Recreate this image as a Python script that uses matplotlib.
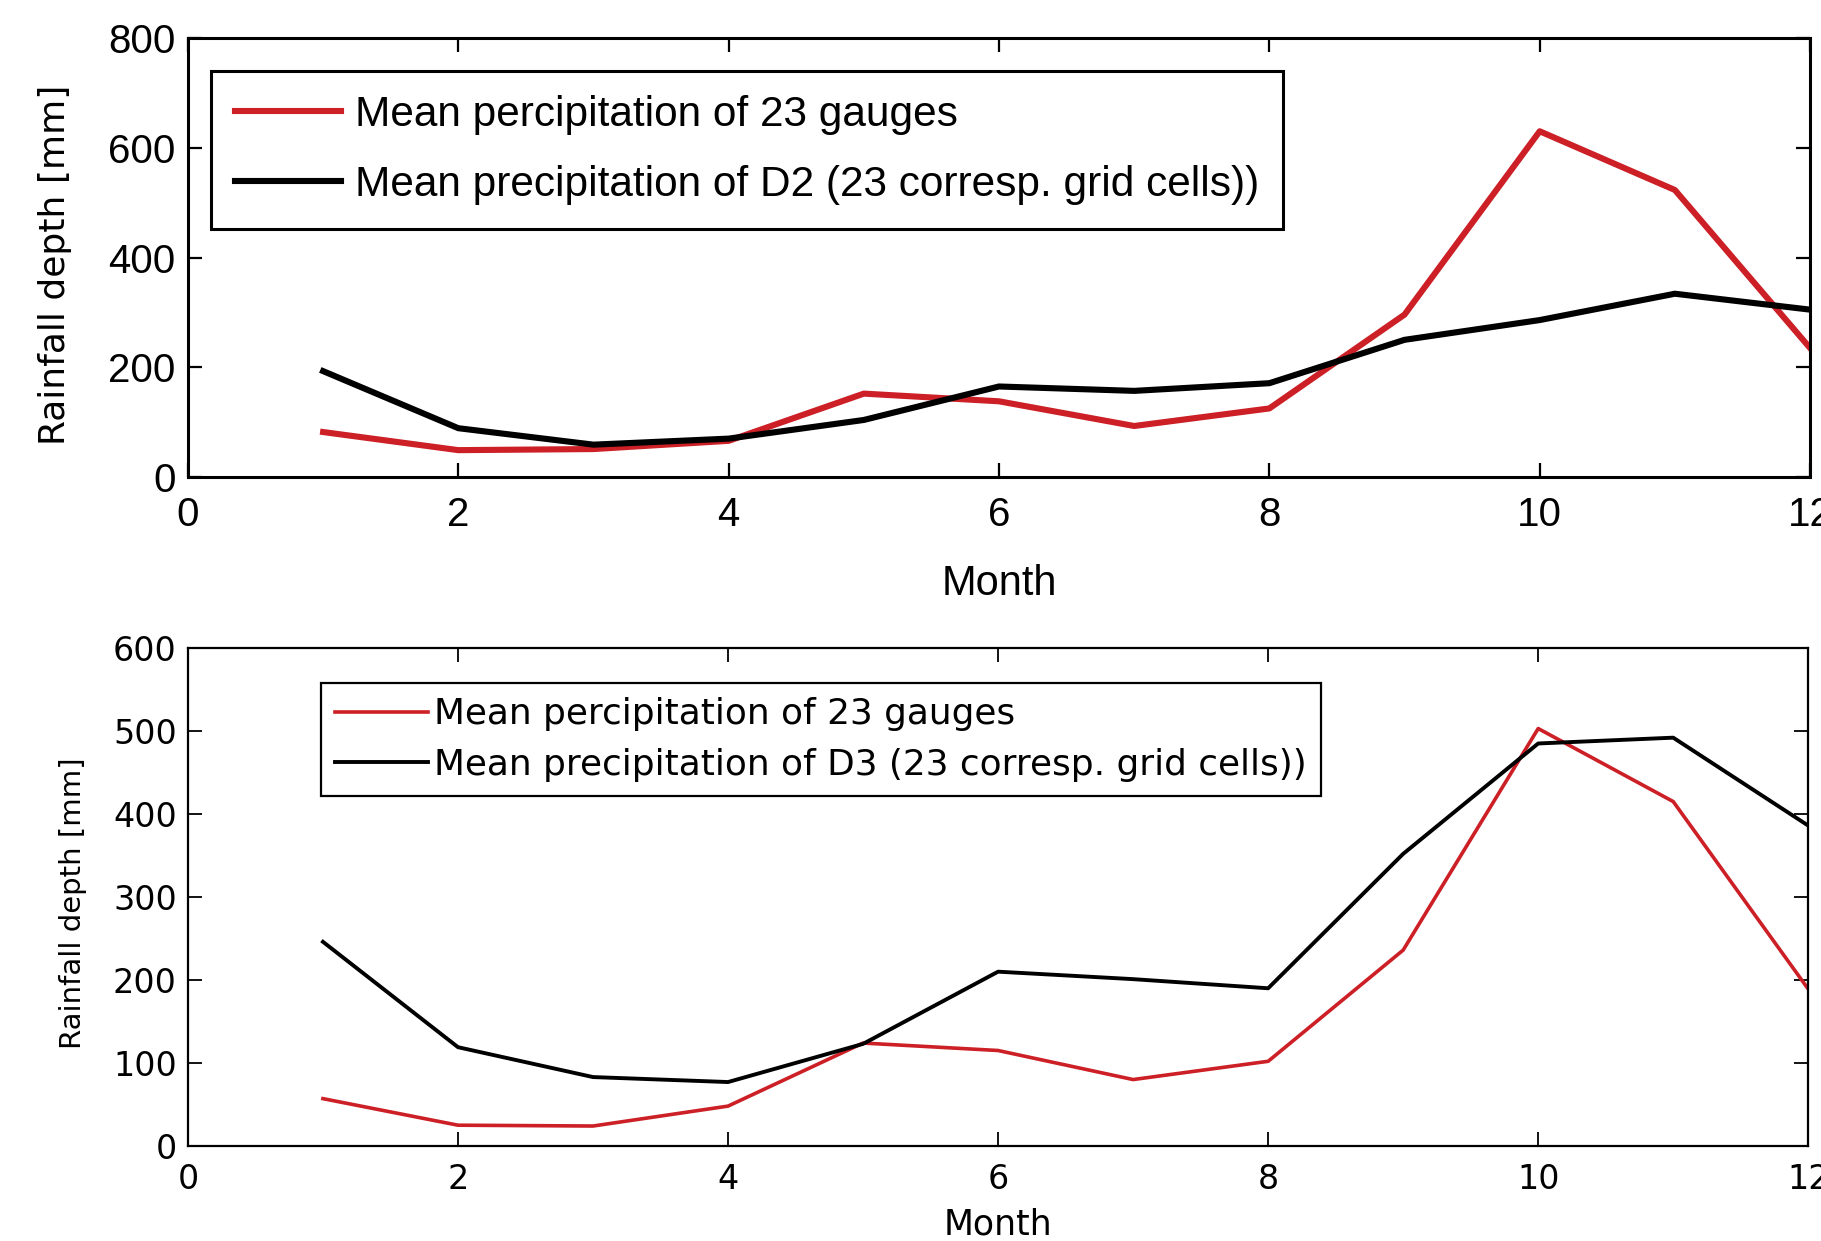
import numpy as np
import matplotlib
matplotlib.use('Agg')
import matplotlib.pyplot as plt

# monthly values
months = np.arange(1, 13)
gauges_top = [82, 49, 51, 66, 152, 138, 93, 125, 296, 630, 523, 235]
d2_grid = [193, 89, 59, 70, 104, 165, 157, 171, 250, 286, 334, 305]
gauges_bot = [57, 25, 24, 48, 124, 115, 80, 102, 236, 503, 415, 189]
d3_grid = [246, 119, 83, 77, 123, 210, 201, 190, 352, 485, 492, 386]

lbl_gauges = 'Mean percipitation of 23 gauges'
lbl_d2 = 'Mean precipitation of D2 (23 corresp. grid cells))'
lbl_d3 = 'Mean precipitation of D3 (23 corresp. grid cells))'

red = '#cc1f26'

fig = plt.figure(figsize=(18.21, 12.41), dpi=100)

# top panel
ax1 = fig.add_axes([0.1032, 0.6156, 0.8908, 0.3538])
ax1.plot(months, gauges_top, color=red, lw=4.4, label=lbl_gauges)
ax1.plot(months, d2_grid, color='black', lw=4.4, label=lbl_d2)
ax1.set_xlim(0, 12)
ax1.set_ylim(0, 800)
ax1.set_xticks(range(0, 13, 2))
ax1.set_yticks(range(0, 801, 200))
ax1.tick_params(direction='in', length=10, width=1.6, top=True, right=True,
                labelsize=29, pad=14)
ax1.tick_params(axis='y', pad=9)
for lab in ax1.get_xticklabels() + ax1.get_yticklabels():
    lab.set_family('Liberation Sans')
for s in ax1.spines.values():
    s.set_linewidth(2.2)
ax1.set_xlabel('Month', fontsize=30, family='Liberation Sans', va='top')
ax1.xaxis.set_label_coords(0.5, -0.198)
ax1.set_ylabel('Rainfall depth [mm]', fontsize=26, family='DejaVu Sans')
ax1.yaxis.set_label_coords(-0.0715, 0.483)
leg1 = ax1.legend(loc='upper left', bbox_to_anchor=(0.0142, 0.9248),
                  prop={'family': 'Liberation Sans', 'size': 30.5},
                  fancybox=False, framealpha=1, edgecolor='black',
                  borderpad=0.57, labelspacing=0.7, handlelength=2.5,
                  handletextpad=0.33, borderaxespad=0)
leg1.get_frame().set_linewidth(2.2)

# bottom panel
ax2 = fig.add_axes([0.1032, 0.0766, 0.8898, 0.4012])
ax2.plot(months, gauges_bot, color=red, lw=2.6, label=lbl_gauges)
ax2.plot(months, d3_grid, color='black', lw=2.8, label=lbl_d3)
ax2.set_xlim(0, 12)
ax2.set_ylim(0, 600)
ax2.set_xticks(range(0, 13, 2))
ax2.set_yticks(range(0, 601, 100))
ax2.tick_params(direction='in', length=10, width=1.3, top=True, right=True,
                labelsize=24, pad=12)
ax2.tick_params(axis='y', pad=8)
for s in ax2.spines.values():
    s.set_linewidth(1.6)
ax2.set_xlabel('Month', fontsize=25, va='top')
ax2.xaxis.set_label_coords(0.5, -0.124)
ax2.set_ylabel('Rainfall depth [mm]', fontsize=21)
ax2.yaxis.set_label_coords(-0.0623, 0.488)
leg2 = ax2.legend(loc='upper left', bbox_to_anchor=(0.082, 0.9297),
                  prop={'size': 25.8},
                  fancybox=False, framealpha=1, edgecolor='black',
                  borderpad=0.4, labelspacing=0.45, handlelength=2.6,
                  handletextpad=0.17, borderaxespad=0)
leg2.get_frame().set_linewidth(1.6)

fig.savefig('out.png', dpi=100)
